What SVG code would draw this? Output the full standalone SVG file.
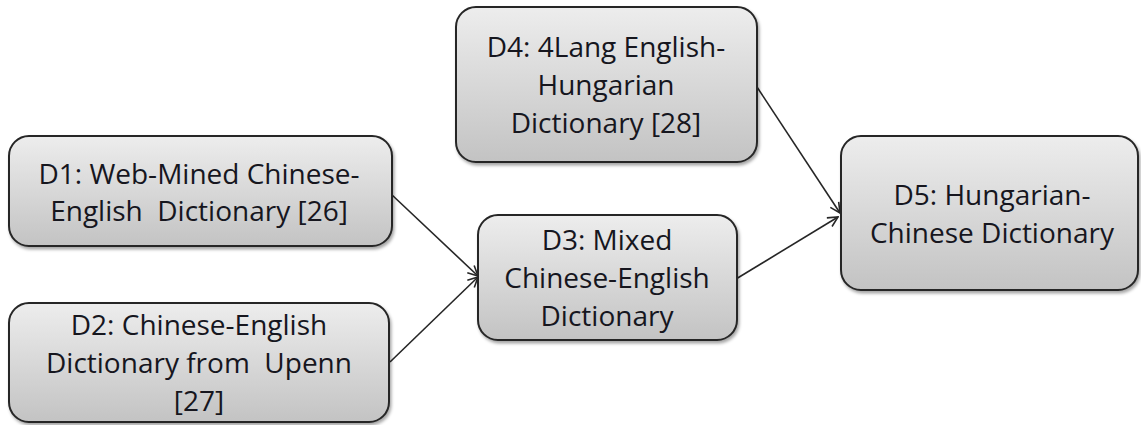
<svg xmlns="http://www.w3.org/2000/svg" width="1141" height="425" viewBox="0 0 1141 425">
<style>
.box{fill:url(#g);stroke:#262626;stroke-width:2;filter:url(#sh)}
.t{font-family:"Open Sans","Liberation Sans",sans-serif;font-size:28px;fill:#16161e;text-anchor:middle;white-space:pre}
.c{stroke:#262626;stroke-width:1.6;fill:none;marker-end:url(#arr)}
</style>
<defs>
<linearGradient id="g" x1="0" y1="0" x2="0" y2="1">
<stop offset="0" stop-color="#ededed"/>
<stop offset="1" stop-color="#c3c3c3"/>
</linearGradient>
<filter id="sh" x="-10%" y="-10%" width="120%" height="130%">
<feDropShadow dx="1.5" dy="2.5" stdDeviation="1.8" flood-color="#000" flood-opacity="0.35"/>
</filter>
<marker id="arr" viewBox="0 0 12 12" refX="11" refY="6" markerWidth="12" markerHeight="12" markerUnits="userSpaceOnUse" orient="auto">
<path d="M1,1 L11,6 L1,11" fill="none" stroke="#262626" stroke-width="1.6"/>
</marker>
</defs>
<g id="connectors">
<line class="c" x1="391" y1="194" x2="478" y2="276"/>
<line class="c" x1="390" y1="362" x2="478" y2="277"/>
<line class="c" x1="757" y1="87" x2="840" y2="213"/>
<line class="c" x1="736" y1="279" x2="838" y2="217"/>
</g>
<g id="D1">
<rect class="box" x="9" y="136" width="383" height="110" rx="20"/>
<text class="t" x="199" y="184">D1: Web-Mined Chinese-</text>
<text class="t" x="199" y="221">English  Dictionary [26]</text>
</g>
<g id="D2">
<rect class="box" x="9" y="303" width="380" height="119" rx="20"/>
<text class="t" x="199" y="335">D2: Chinese-English</text>
<text class="t" x="199" y="373">Dictionary from  Upenn</text>
<text class="t" x="199" y="411">[27]</text>
</g>
<g id="D3">
<rect class="box" x="478" y="215" width="259" height="125" rx="20"/>
<text class="t" x="607" y="250">D3: Mixed</text>
<text class="t" x="607" y="288">Chinese-English</text>
<text class="t" x="607" y="326">Dictionary</text>
</g>
<g id="D4">
<rect class="box" x="456" y="7" width="301" height="155" rx="20"/>
<text class="t" x="606" y="57">D4: 4Lang English-</text>
<text class="t" x="606" y="95">Hungarian</text>
<text class="t" x="606" y="133">Dictionary [28]</text>
</g>
<g id="D5">
<rect class="box" x="841" y="136" width="297" height="154" rx="20"/>
<text class="t" x="992" y="205">D5: Hungarian-</text>
<text class="t" x="992" y="243">Chinese Dictionary</text>
</g>
</svg>
